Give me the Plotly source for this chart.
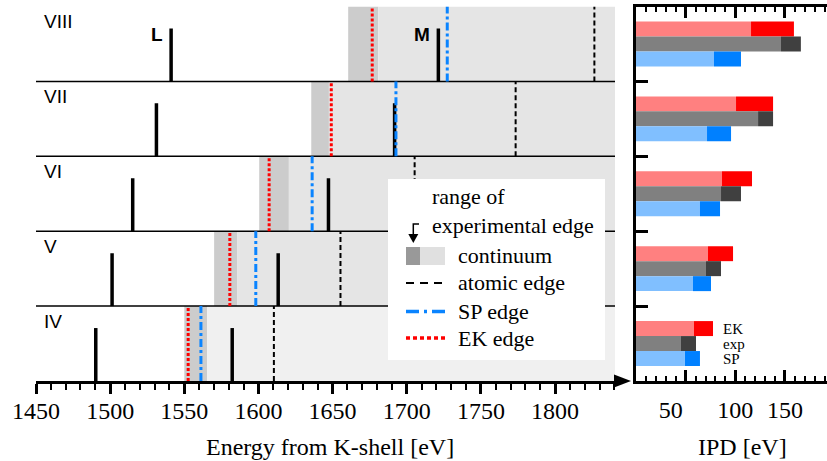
import plotly.graph_objects as go

W, H = 827, 461

# ---------------- data ----------------
rows = ["IV", "V", "VI", "VII", "VIII"]
L_line = [1490.3, 1501.3, 1515.2, 1531.2, 1541.1]
M_line = [1582.3, 1613.3, 1647.2, 1691.8, 1721.3]
exp_lo = [1550.0, 1570.1, 1600.5, 1635.6, 1660.5]
exp_hi = [1565.4, 1585.6, 1620.5, 1647.5, 1680.8]
atomic_edge = [1610.4, 1655.3, 1705.3, 1773.4, 1826.5]
sp_edge = [1561.2, 1598.2, 1636.2, 1692.7, 1727.3]
ek_edge = [1552.6, 1580.7, 1607.2, 1649.1, 1676.7]

ipd_ek_lo = [58.4, 72.5, 86.6, 100.7, 115.8]
ipd_ek_hi = [77.5, 97.7, 116.8, 138.0, 159.0]
ipd_exp_lo = [45.3, 70.5, 85.6, 122.9, 146.0]
ipd_exp_hi = [60.4, 85.6, 105.7, 138.0, 166.0]
ipd_sp_lo = [49.3, 57.4, 64.4, 71.5, 78.5]
ipd_sp_hi = [64.4, 75.5, 84.6, 95.7, 105.7]

energy_ticks = [1450, 1500, 1550, 1600, 1650, 1700, 1750, 1800]
ipd_ticks = [50, 100, 150]
ipd_ticktext = ["50" + "\u00a0" * 5, "100", "150"]
bar_labels = ["EK", "exp", "SP"]

X_RANGE = [1450, 1840.4]
IPD_RANGE = [0, 192.3]
LINE_TOP = 0.707

light_gray = ["#f0f0f0", "#e5e5e5", "#e5e5e5", "#e5e5e5", "#e5e5e5"]
dark_gray = "#cccccc"

SERIF = "Liberation Serif, Times New Roman, Times, DejaVu Serif, serif"
SANS = "Liberation Sans, Arial, sans-serif"


def px(x):
    return x / W


def py(y):
    return 1 - y / H


YDOM = [py(381), py(6.5)]

fig = go.Figure()


def vline_trace(vals, top, color, width, dash):
    xs, ys = [], []
    for i, v in enumerate(vals):
        xs += [v, v, None]
        ys += [i, i + top, None]
    return go.Scatter(x=xs, y=ys, mode="lines", xaxis="x", yaxis="y",
                      line=dict(color=color, width=width, dash=dash),
                      hoverinfo="skip", showlegend=False)


fig.add_trace(vline_trace(L_line, LINE_TOP, "black", 3.5, "solid"))
fig.add_trace(vline_trace(M_line, LINE_TOP, "black", 3.5, "solid"))
fig.add_trace(vline_trace(atomic_edge, 1, "black", 2, "5px,3px"))
fig.add_trace(vline_trace(sp_edge, 1, "#0a84ff", 3, "8px,3px,3px,3px"))
fig.add_trace(vline_trace(ek_edge, 1, "#ff0000", 3, "3px,2px"))

# ---------------- right panel bars ----------------
centers = [i + 0.5 for i in range(len(rows))]
bar_sets = [
    (ipd_ek_lo, ipd_ek_hi, 0.2, "#ff8080", "#ff0000"),
    (ipd_exp_lo, ipd_exp_hi, 0.0, "#808080", "#404040"),
    (ipd_sp_lo, ipd_sp_hi, -0.2, "#80bfff", "#0080ff"),
]
for lo, hi, off, c_light, c_dark in bar_sets:
    yy = [c + off for c in centers]
    fig.add_trace(go.Bar(x=lo, y=yy, base=0, orientation="h", width=0.2,
                         marker=dict(color=c_light, line=dict(width=0)),
                         xaxis="x2", yaxis="y2", showlegend=False, hoverinfo="skip"))
    fig.add_trace(go.Bar(x=[h - l for l, h in zip(lo, hi)], y=yy, base=lo,
                         orientation="h", width=0.2,
                         marker=dict(color=c_dark, line=dict(width=0)),
                         xaxis="x2", yaxis="y2", showlegend=False, hoverinfo="skip"))

shapes = []
# continuum regions
for i in range(len(rows)):
    shapes.append(dict(type="rect", xref="x", yref="y", x0=exp_lo[i], x1=exp_hi[i],
                       y0=i, y1=i + 1, fillcolor=dark_gray, line=dict(width=0),
                       layer="below"))
    shapes.append(dict(type="rect", xref="x", yref="y", x0=exp_hi[i], x1=X_RANGE[1],
                       y0=i, y1=i + 1, fillcolor=light_gray[i], line=dict(width=0),
                       layer="below"))
# row separators
for i in range(1, len(rows)):
    shapes.append(dict(type="line", xref="x", yref="y", x0=X_RANGE[0], x1=X_RANGE[1],
                       y0=i, y1=i, line=dict(color="black", width=1.5), layer="below"))

# arrow head on energy axis
shapes.append(dict(type="path", xref="paper", yref="paper",
                   path=f"M {px(614)} {py(374.5)} L {px(631)} {py(381)} L {px(614)} {py(387.5)} Z",
                   fillcolor="black", line=dict(width=0), layer="above"))

# legend box
shapes.append(dict(type="rect", xref="paper", yref="paper", x0=px(388), x1=px(605),
                   y0=py(360), y1=py(179), fillcolor="white", line=dict(width=0),
                   layer="above"))
# hook arrow
shapes.append(dict(type="path", xref="paper", yref="paper",
                   path=f"M {px(419)} {py(224)} L {px(413.3)} {py(224)} L {px(413.3)} {py(236)}",
                   line=dict(color="black", width=1.5), layer="above"))
shapes.append(dict(type="path", xref="paper", yref="paper",
                   path=f"M {px(408.3)} {py(234)} L {px(413.3)} {py(243)} L {px(418.3)} {py(234)} Z",
                   fillcolor="black", line=dict(width=0), layer="above"))
# continuum swatch
shapes.append(dict(type="rect", xref="paper", yref="paper", x0=px(406), x1=px(420),
                   y0=py(265), y1=py(247), fillcolor="#999999", line=dict(width=0), layer="above"))
shapes.append(dict(type="rect", xref="paper", yref="paper", x0=px(420), x1=px(445),
                   y0=py(265), y1=py(247), fillcolor="#e0e0e0", line=dict(width=0), layer="above"))
# line samples
shapes.append(dict(type="line", xref="paper", yref="paper", x0=px(406), x1=px(445),
                   y0=py(283), y1=py(283), line=dict(color="black", width=2, dash="8px,6px"),
                   layer="above"))
shapes.append(dict(type="line", xref="paper", yref="paper", x0=px(406), x1=px(445),
                   y0=py(311.5), y1=py(311.5),
                   line=dict(color="#0a84ff", width=3.5, dash="13px,5px,3px,5px"), layer="above"))
shapes.append(dict(type="line", xref="paper", yref="paper", x0=px(406), x1=px(445),
                   y0=py(338), y1=py(338),
                   line=dict(color="#ff0000", width=3.5, dash="4px,3px"), layer="above"))

annotations = []
for i, r in enumerate(rows):
    annotations.append(dict(x=1454, y=i + 0.8, xref="x", yref="y", text=r, showarrow=False,
                            xanchor="left", yanchor="middle",
                            font=dict(family=SANS, size=19, color="black")))
annotations.append(dict(x=L_line[4], y=4.62, xref="x", yref="y", text="<b>L</b>",
                        showarrow=False, xanchor="right", yanchor="middle", xshift=-6,
                        font=dict(family=SANS, size=19, color="black")))
annotations.append(dict(x=M_line[4], y=4.62, xref="x", yref="y", text="<b>M</b>",
                        showarrow=False, xanchor="right", yanchor="middle", xshift=-6,
                        font=dict(family=SANS, size=19, color="black")))

legend_texts = [("range of", 430, 197), ("experimental edge", 430, 226),
                ("continuum", 456, 255), ("atomic edge", 456, 282),
                ("SP edge", 456, 311), ("EK edge", 456, 338)]
for t, x, y in legend_texts:
    annotations.append(dict(x=px(x), y=py(y), xref="paper", yref="paper", text=t,
                            showarrow=False, xanchor="left", yanchor="middle",
                            font=dict(family=SERIF, size=22, color="black")))

for lab, off in zip(bar_labels, [0.2, 0.0, -0.2]):
    annotations.append(dict(x=86, y=centers[0] + off, xref="x2", yref="y2", text=lab,
                            showarrow=False, xanchor="left", yanchor="middle",
                            font=dict(family=SERIF, size=15, color="black")))

annotations.append(dict(x=px(330), y=py(447), xref="paper", yref="paper",
                        text="Energy from K-shell [eV]", showarrow=False,
                        xanchor="center", yanchor="middle",
                        font=dict(family=SERIF, size=24, color="black")))
annotations.append(dict(x=px(742), y=py(447), xref="paper", yref="paper",
                        text="IPD [eV]", showarrow=False,
                        xanchor="center", yanchor="middle",
                        font=dict(family=SERIF, size=24, color="black")))

fig.update_layout(
    width=W, height=H, margin=dict(l=0, r=0, t=0, b=0, autoexpand=False),
    paper_bgcolor="white", plot_bgcolor="white",
    barmode="overlay", showlegend=False,
    shapes=shapes, annotations=annotations,
    xaxis=dict(domain=[px(36), px(615)], range=X_RANGE, anchor="y", automargin=False,
               tickvals=energy_ticks, ticks="outside", ticklen=10, tickwidth=3,
               tickcolor="black", showline=True, linecolor="black", linewidth=2.5,
               showgrid=False, zeroline=False, ticklabelstandoff=-4,
               tickfont=dict(family=SERIF, size=24, color="black"),
               minor=dict(dtick=10, tick0=1450, ticks="outside", ticklen=6, tickwidth=2,
                          tickcolor="black", showgrid=False)),
    yaxis=dict(domain=YDOM, range=[0, 5], anchor="x", showline=False, showticklabels=False,
               ticks="", showgrid=False, zeroline=False, automargin=False),
    xaxis2=dict(domain=[px(636), 1], range=IPD_RANGE, anchor="y2", automargin=False,
                tickvals=ipd_ticks, ticktext=ipd_ticktext, ticks="inside", ticklen=11,
                tickwidth=3, tickcolor="black", showline=True, linecolor="black",
                linewidth=3, mirror="allticks", showgrid=False, zeroline=False,
                ticklabelstandoff=5,
                tickfont=dict(family=SERIF, size=24, color="black"),
                minor=dict(tickmode="array", tickvals=list(range(10, 200, 10)),
                           ticks="inside", ticklen=5, tickwidth=2, tickcolor="black",
                           showgrid=False)),
    yaxis2=dict(domain=YDOM, range=[0, 5], anchor="x2", showline=True, linecolor="black",
                linewidth=3, tickvals=[1, 2, 3, 4], ticks="inside", ticklen=12,
                tickwidth=3, tickcolor="black", showticklabels=False, showgrid=False,
                zeroline=False, automargin=False),
)

fig.write_html("out.html")
